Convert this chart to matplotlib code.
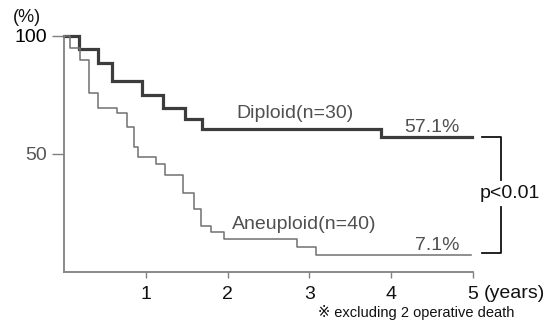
import matplotlib
matplotlib.use("Agg")
import matplotlib.pyplot as plt

plt.rcParams['font.family'] = ['Liberation Sans', 'DejaVu Sans', 'Noto Sans CJK JP']

# Data
dip_t = [0, 0.18, 0.41, 0.585, 0.95, 1.21, 1.48, 1.69, 3.88, 4.99]
dip_s = [100, 94.5, 88.6, 80.9, 75.0, 69.5, 65.0, 60.6, 57.1, 57.1]
ane_t = [0, 0.07, 0.195, 0.31, 0.42, 0.65, 0.77, 0.85, 0.90, 1.13, 1.24,
         1.45, 1.59, 1.68, 1.80, 1.95, 2.85, 3.08, 4.98]
ane_s = [100, 95.0, 89.8, 75.8, 69.5, 67.4, 61.4, 53.0, 48.7, 45.8, 41.0,
         33.5, 26.7, 19.5, 17.0, 14.0, 10.6, 7.1, 7.1]
x_ticks = [1, 2, 3, 4, 5]
y_ticks = [50, 100]
dip_label = "Diploid(n=30)"
ane_label = "Aneuploid(n=40)"
dip_final = "57.1%"
ane_final = "7.1%"
p_text = "p<0.01"

W, H = 558, 321
fig = plt.figure(figsize=(W / 100, H / 100), dpi=100)
ax = fig.add_axes([64 / W, 1 - 272 / H, (473 - 64) / W, (272 - 36) / H])
ax.set_xlim(0, 5)
ax.set_ylim(0, 100)

ax.step(dip_t, dip_s, where='post', color='#3c3c3c', lw=2.3, clip_on=False,
        solid_joinstyle='miter')
ax.step(ane_t, ane_s, where='post', color='#707070', lw=1.1, clip_on=False)

for s in ['top', 'right']:
    ax.spines[s].set_visible(False)
for s in ['left', 'bottom']:
    ax.spines[s].set_color('#808080')
    ax.spines[s].set_linewidth(1.3)

ax.set_xticks(x_ticks)
ax.set_xticklabels([str(v) for v in x_ticks], fontsize=14, color='#111111')
ax.set_yticks(y_ticks)
ax.set_yticklabels([str(v) for v in y_ticks], fontsize=14)
ax.get_yticklabels()[0].set_color('#555555')
ax.get_yticklabels()[1].set_color('#000000')
ax.tick_params(axis='x', length=4, width=1, color='#808080', pad=6)
ax.tick_params(axis='y', length=9, width=1, color='#808080', pad=3)

# curve labels
ax.text(2.11, 67, dip_label, fontsize=14, color='#505050', va='center', ha='left')
ax.text(2.05, 20, ane_label, fontsize=14, color='#505050', va='center', ha='left')
ax.text(4.84, 57.6, dip_final, fontsize=14, color='#505050', va='bottom', ha='right')
ax.text(4.84, 7.6, ane_final, fontsize=14, color='#505050', va='bottom', ha='right')

# bracket
bx0, bx1 = 5.11, 5.34
kw = dict(color='#111111', lw=1.3, clip_on=False)
ax.plot([bx0, bx1, bx1], [57.1, 57.1, 39], **kw)
ax.plot([bx1, bx1, bx0], [27.5, 8.0, 8.0], **kw)
ax.text(5.45, 33.2, p_text, fontsize=14, color='#111111', va='center', ha='center')

# extra labels
fig.text(13 / W, 1 - 18 / H, "(%)", fontsize=13, color='#111111', va='center', ha='left')
fig.text(484 / W, 1 - 294 / H, "(years)", fontsize=14, color='#111111', va='center', ha='left')
fig.text(318 / W, 1 - 312 / H, "※ excluding 2 operative death", fontsize=10.5,
         color='#111111', va='center', ha='left')

fig.savefig("out.png", dpi=100)
